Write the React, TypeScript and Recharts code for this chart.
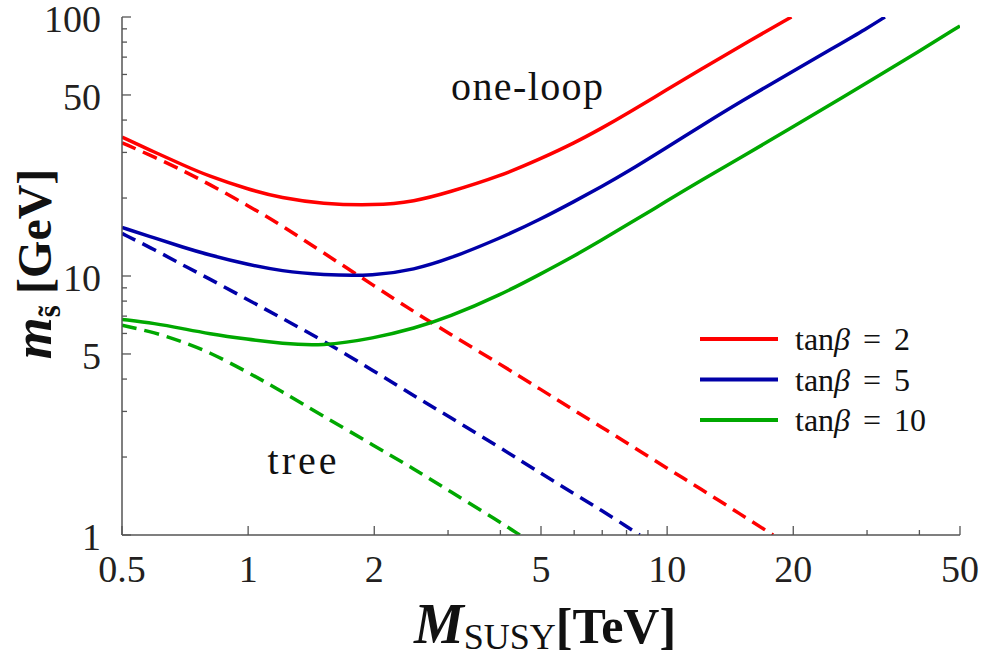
import { LineChart, Line, XAxis, YAxis, Legend } from "recharts";

const FONT = '"Liberation Serif", "DejaVu Serif", serif';
const AXIS = "#555";
const INK = "#231f20";

// axis ticks (log scales)
const xMajor = [0.5, 1, 2, 5, 10, 20, 50];
const xMinor = [3, 4, 6, 7, 8, 9, 30, 40];
const yMajor = [1, 5, 10, 50, 100];
const yMinor = [2, 3, 4, 6, 7, 8, 9, 20, 30, 40, 60, 70, 80, 90];

const tanBeta = [2, 5, 10];
const colors = ["#ff0000", "#0000a8", "#00a800"];

// one-loop curves (solid), M_SUSY in TeV -> m in GeV
const loopM2 = [0.5, 0.6, 0.7, 0.8, 1, 1.2, 1.5, 2, 2.5, 3, 4, 5, 6, 7, 8, 10, 12, 15, 19.8];
const loop2 = [34.4, 30.0, 26.8, 24.4, 21.6, 20.0, 19.0, 18.7, 19.4, 21.0, 24.3, 28.4, 32.6, 37.3, 42.2, 52.5, 62.5, 77.5, 100];

const loopM5 = [0.5, 0.6, 0.7, 0.8, 1, 1.2, 1.5, 2, 2.5, 3, 4, 5, 6, 7, 8, 10, 12, 15, 20, 25, 30, 33.1];
const loop5 = [15.4, 14.0, 12.9, 12.1, 11.06, 10.45, 10.1, 10.0, 10.6, 11.6, 14.0, 16.6, 19.4, 22.2, 25.1, 31.4, 37.8, 47.2, 61.8, 76.2, 90.4, 100];

const loopM10 = [0.5, 0.6, 0.7, 0.8, 1, 1.2, 1.5, 2, 2.5, 3, 4, 5, 6, 7, 8, 10, 12, 15, 20, 25, 30, 40, 50];
const loop10 = [6.8, 6.56, 6.26, 6.0, 5.69, 5.49, 5.36, 5.75, 6.29, 6.92, 8.45, 10.2, 11.95, 13.8, 15.7, 19.5, 23.3, 28.7, 37.7, 46.8, 55.7, 73.8, 92.4];

// tree-level curves (dashed)
const treeM2 = [0.5, 0.6, 0.7, 0.8, 1, 1.2, 1.5, 2, 2.5, 3, 4, 5, 6, 7, 8, 10, 12, 15, 17.9];
const tree2 = [32.7, 28.7, 25.5, 22.8, 18.7, 15.7, 12.4, 9.16, 7.24, 6.03, 4.56, 3.64, 3.03, 2.6, 2.27, 1.81, 1.51, 1.2, 1.0];

const treeM5 = [0.5, 0.6, 0.7, 0.8, 1, 1.2, 1.5, 2, 2.5, 3, 4, 5, 6, 7, 8, 8.6];
const tree5 = [14.6, 12.6, 11.0, 9.84, 8.09, 6.89, 5.67, 4.29, 3.43, 2.88, 2.17, 1.73, 1.44, 1.24, 1.08, 1.0];

const treeM10 = [0.5, 0.6, 0.7, 0.8, 1, 1.2, 1.5, 2, 2.5, 3, 4, 4.45];
const tree10 = [6.45, 6.05, 5.56, 5.12, 4.25, 3.59, 2.9, 2.21, 1.79, 1.49, 1.12, 1.0];

const toPoints = (ms: number[], vs: number[]) => ms.map((m, i) => ({ m, v: vs[i] }));

const oneLoop = [toPoints(loopM2, loop2), toPoints(loopM5, loop5), toPoints(loopM10, loop10)];
const tree = [toPoints(treeM2, tree2), toPoints(treeM5, tree5), toPoints(treeM10, tree10)];

function AxisTick(props: any) {
  const { x, y, payload, side } = props;
  const v = payload.value;
  const majors = side === "bottom" || side === "top" ? xMajor : yMajor;
  const major = majors.includes(v);
  const len = major ? 9 : 5;
  let line = null;
  if (side === "bottom") line = <line x1={x} y1={y} x2={x} y2={y - len} />;
  if (side === "top") line = <line x1={x} y1={y} x2={x} y2={y + len} />;
  if (side === "left") line = <line x1={x} y1={y} x2={x + len} y2={y} />;
  if (side === "right") line = <line x1={x} y1={y} x2={x - len} y2={y} />;
  return (
    <g>
      <g stroke={AXIS} strokeWidth={1.3}>{line}</g>
      {major && side === "bottom" && (
        <text x={x} y={y + 34} textAnchor="middle" dominantBaseline="central"
          fontFamily={FONT} fontSize={38} fill={INK}>{v}</text>
      )}
      {major && side === "left" && (
        <text x={x - 21} y={y + 2} textAnchor="end" dominantBaseline="central"
          fontFamily={FONT} fontSize={38} fill={INK}>{v}</text>
      )}
    </g>
  );
}

function LegendBox(props: any) {
  const items = (props.payload || [])
    .filter((p: any) => p.type !== "none")
    .sort((a: any, b: any) => Number(a.value) - Number(b.value));
  return (
    <svg width={280} height={125} style={{ display: "block" }}>
      {items.map((p: any, i: number) => (
        <g key={p.value}>
          <line x1={0} x2={78} y1={20 + i * 40.5} y2={20 + i * 40.5} stroke={p.color} strokeWidth={4} />
          <text x={95} y={20 + i * 40.5} dominantBaseline="central" fontFamily={FONT} fontSize={32} fill="#111">
            <tspan>tan</tspan>
            <tspan fontStyle="italic">β</tspan>
            <tspan dx={13}>=</tspan>
            <tspan dx={13}>{p.value}</tspan>
          </text>
        </g>
      ))}
    </svg>
  );
}

export default function App() {
  const ticksX = [...xMajor, ...xMinor].sort((a, b) => a - b);
  const ticksY = [...yMajor, ...yMinor].sort((a, b) => a - b);
  return (
    <div style={{ position: "absolute", left: 0, top: 0, background: "#fff" }}>
      <LineChart width={987} height={657} margin={{ top: 17, right: 27, left: 0, bottom: 0 }}>
        <XAxis dataKey="m" type="number" scale="log" domain={[0.5, 50]} allowDataOverflow
          ticks={ticksX} interval={0} height={122} tickLine={false} tickSize={0} tickMargin={0}
          axisLine={{ stroke: AXIS, strokeWidth: 1.5 }}
          tick={(p: any) => <AxisTick {...p} side="bottom" />} />
        <XAxis xAxisId="top" orientation="top" dataKey="m" type="number" scale="log" domain={[0.5, 50]}
          allowDataOverflow ticks={ticksX} interval={0} height={0} tickLine={false} tickSize={0} tickMargin={0}
          axisLine={{ stroke: AXIS, strokeWidth: 1.5 }}
          tick={(p: any) => <AxisTick {...p} side="top" />} />
        <YAxis dataKey="v" type="number" scale="log" domain={[1, 100]} allowDataOverflow
          ticks={ticksY} interval={0} width={122} tickLine={false} tickSize={0} tickMargin={0}
          axisLine={{ stroke: AXIS, strokeWidth: 1.5 }}
          tick={(p: any) => <AxisTick {...p} side="left" />} />
        <YAxis yAxisId="right" orientation="right" dataKey="v" type="number" scale="log" domain={[1, 100]}
          allowDataOverflow ticks={ticksY} interval={0} width={0} tickLine={false} tickSize={0} tickMargin={0}
          axisLine={{ stroke: AXIS, strokeWidth: 1.5 }}
          tick={(p: any) => <AxisTick {...p} side="right" />} />

        {tanBeta.map((t, i) => (
          <Line key={"tree" + t} data={tree[i]} dataKey="v" type="basis" stroke={colors[i]}
            strokeWidth={3.5} strokeDasharray="15 8" dot={false} legendType="none" isAnimationActive={false} />
        ))}
        {tanBeta.map((t, i) => (
          <Line key={"loop" + t} data={oneLoop[i]} dataKey="v" name={String(t)} type="basis" stroke={colors[i]}
            strokeWidth={3.5} dot={false} isAnimationActive={false} />
        ))}

        <Legend layout="vertical" align="center" verticalAlign="middle" content={<LegendBox />}
          wrapperStyle={{ left: 700, top: 319, width: 280 }} />

        <text x={527} y={100} textAnchor="middle" fontFamily={FONT} fontSize={40} fill="#111"
          textLength={152} lengthAdjust="spacing">one-loop</text>
        <text x={302} y={474} textAnchor="middle" fontFamily={FONT} fontSize={40} fill="#111"
          textLength={69} lengthAdjust="spacing">tree</text>

        <text x={545} y={643} textAnchor="middle" fontFamily={FONT} fill="#111">
          <tspan fontSize={56} fontWeight="bold" fontStyle="italic">M</tspan>
          <tspan fontSize={36} dy={6}>SUSY</tspan>
          <tspan fontSize={50} fontWeight="bold" dy={-6}>[TeV]</tspan>
        </text>
        <text transform="translate(51, 264) rotate(-90)" textAnchor="middle" fontFamily={FONT} fill="#111">
          <tspan fontSize={54} fontWeight="bold" fontStyle="italic">m</tspan>
          <tspan fontSize={31} fontWeight="bold" dy={9}>s</tspan>
          <tspan fontSize={31} fontWeight="bold" dx={-11}>˜</tspan>
          <tspan fontSize={48} fontWeight="bold" dy={-9} dx={12}>[GeV]</tspan>
        </text>
      </LineChart>
    </div>
  );
}
